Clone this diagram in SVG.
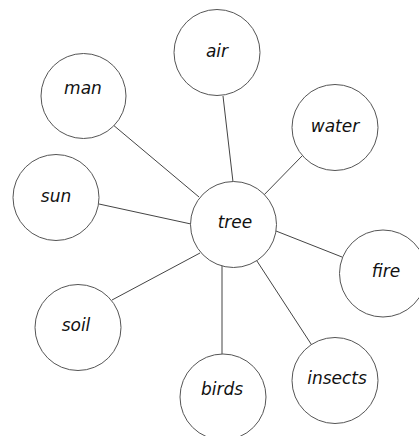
<svg xmlns="http://www.w3.org/2000/svg" width="419" height="436" viewBox="0 0 419 436">
<style>
.n{fill:#fff;stroke:#555;stroke-width:1}
.t{font-family:"DejaVu Sans",sans-serif;font-style:italic;font-size:17px;fill:#111;text-anchor:middle}
.c line{stroke:#444;stroke-width:1}
</style>
<rect width="419" height="436" fill="#fff"/>
<g class="c" id="connectors">
<line x1="112" y1="124" x2="199" y2="197"/>
<line x1="223" y1="96" x2="233" y2="182"/>
<line x1="302" y1="156" x2="261" y2="198"/>
<line x1="99" y1="204" x2="191" y2="224"/>
<line x1="276" y1="231" x2="342" y2="257"/>
<line x1="112" y1="300" x2="200" y2="253"/>
<line x1="222" y1="263" x2="222" y2="354"/>
<line x1="255" y1="258" x2="313" y2="347"/>
</g>
<g id="air"><circle class="n" cx="217" cy="52.5" r="43"/><text class="t" x="217" y="57">air</text></g>
<g id="man"><circle class="n" cx="83.5" cy="96" r="42.5"/><text class="t" x="83" y="94">man</text></g>
<g id="water"><circle class="n" cx="335" cy="127.5" r="43"/><text class="t" x="335" y="132">water</text></g>
<g id="sun"><circle class="n" cx="56" cy="197.5" r="43"/><text class="t" x="56" y="202">sun</text></g>
<g id="tree"><circle class="n" cx="233.5" cy="224.5" r="43"/><text class="t" x="235" y="228">tree</text></g>
<g id="fire"><circle class="n" cx="383" cy="273.5" r="43.5"/><text class="t" x="386" y="277">fire</text></g>
<g id="soil"><circle class="n" cx="78" cy="327.5" r="43"/><text class="t" x="76" y="331">soil</text></g>
<g id="birds"><circle class="n" cx="223" cy="397" r="43"/><text class="t" x="222" y="395">birds</text></g>
<g id="insects"><circle class="n" cx="335" cy="380.5" r="43"/><text class="t" x="337" y="384">insects</text></g>
</svg>
